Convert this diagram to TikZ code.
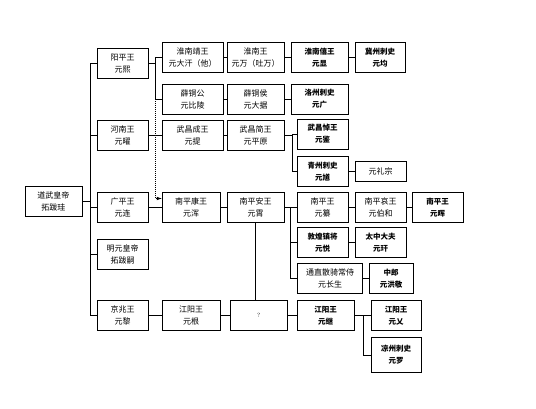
\documentclass[tikz,border=0pt]{standalone}
\usepackage{fontspec}
\newfontfamily\cjk{Noto Sans CJK SC}
\usepackage{tikz}
\usetikzlibrary{calc}
\usetikzlibrary{positioning}

\tikzset{
    box/.style={draw,line width=0.7pt,minimum width=#1,minimum height=30pt,inner sep=1pt,
        align=center,font=\cjk\fontsize{8}{12}\selectfont},
    box/.default=51pt,
    kai/.style={font=\cjk\bfseries\fontsize{7.5}{12}\selectfont},
    link/.style={line width=0.7pt},
}

\begin{document}
\begin{tikzpicture}[x=1pt,y=-1pt]
            \useasboundingbox (0,0) rectangle (536,409);

            % root and sons
            \node[box=57pt] (dw) at (53.5,201.5) {道武皇帝\\拓跋珪};
            \node[box] (yp) at (122.5,63.5) {阳平王\\元熙};
            \node[box] (hn) at (122.5,135) {河南王\\元曜};
            \node[box] (gp) at (122.5,207.5) {广平王\\元连};
            \node[box] (my) at (122.5,254.5) {明元皇帝\\拓跋嗣};
            \node[box] (jz) at (122.5,315.5) {京兆王\\元黎};
            \foreach \c in {yp,hn,gp,my,jz}{
                \draw[link] (dw.east) -- ++(8,0) |- (\c.west);
            }

            % line of yangping
            \node[box=61pt] (hnj) at (192.5,57.5) {淮南靖王\\元大汗（他）};
            \node[box=57pt] (hnw) at (255.5,57.5) {淮南王\\元万（吐万）};
            \node[box=57pt,kai] (hnx) at (319.5,57.5) {淮南僖王\\元显};
            \node[box=50pt,kai] (jzc) at (380,57.5) {冀州刺史\\元均};
            \node[box=61pt] (xtg) at (192.5,99) {薛铜公\\元比陵};
            \node[box=57pt] (xth) at (255.5,99) {薛铜侯\\元大据};
            \node[box=57pt,kai] (lz) at (319.5,99) {洛州刺史\\元广};
            \draw[link] (yp.east) -- ++(7,0) coordinate (yb) |- (hnj.west);
            \draw[link] (yb) |- (xtg.west);
            \draw[link] (hnj) -- (hnw) -- (hnx) -- (jzc);
            \draw[link] (xtg) -- (xth) -- (lz);

            % line of henan
            \node[box=61pt] (wcc) at (192.5,135) {武昌成王\\元提};
            \node[box=57pt] (wcj) at (255.5,135) {武昌简王\\元平原};
            \node[box,kai] (wcd) at (322.5,134) {武昌悼王\\元鉴};
            \node[box,kai] (qz) at (322.5,171.5) {青州刺史\\元馗};
            \node[box,minimum height=20pt] (lzs) at (380.5,171.5) {元礼宗};
            \draw[link] (hn) -- (wcc) -- (wcj);
            \draw[link] (wcj.east) -- ++(8,0) |- (wcd.west);
            \draw[link] (wcj.east) -- ++(8,0) |- (qz.west);
            \draw[link] (qz) -- (lzs);

            % line of guangping
            \node[box=58pt] (npk) at (191,207.5) {南平康王\\元浑};
            \node[box=57pt] (npa) at (255.5,207.5) {南平安王\\元霄};
            \node[box] (npw) at (322.5,207.5) {南平王\\元纂};
            \node[box] (nph) at (380.5,207.5) {南平哀王\\元伯和};
            \node[box,kai] (nph2) at (437.5,207.5) {南平王\\元晖};
            \node[box,kai] (dh) at (322.5,242.5) {敦煌镇将\\元悦};
            \node[box,kai] (tzd) at (380.5,242.5) {太中大夫\\元玕};
            \node[box=65pt] (tz) at (330,278.5) {通直散骑常侍\\元长生};
            \node[box=44pt,kai] (zl) at (391,278.5) {中郎\\元洪敬};
            \draw[link] (gp) -- (npk) -- (npa);
            \draw[link,dash pattern=on 1pt off 1pt,-latex] (yb |- xtg.west) |- ([yshift=9pt]npk.west);
            \foreach \c in {npw,dh,tz}{
                \draw[link] (npa.east) -- ++(6,0) |- (\c.west);
            }
            \draw[link] (npw) -- (nph) -- (nph2);
            \draw[link] (dh) -- (tzd);
            \draw[link] (tz) -- (zl);

            % line of jingzhao
            \node[box=58pt] (jyg) at (191,315.5) {江阳王\\元根};
            \node[box=57pt,font=\fontsize{6}{8}\selectfont] (q) at (258.5,315.5) {?};
            \node[box=57pt,kai] (jyj) at (325.5,315.5) {江阳王\\元继};
            \node[box=50pt,kai] (yy) at (396,315.5) {江阳王\\元乂};
            \node[box=50pt,kai,minimum height=35pt] (lzc) at (396,355) {凉州刺史\\元罗};
            \draw[link] (jz) -- (jyg) -- (q) -- (jyj);
            \draw[link] (npa.south) -- (npa.south |- q.north);
            \draw[link] (jyj.east) -- ++(9,0) |- (yy.west);
            \draw[link] (jyj.east) -- ++(9,0) |- (lzc.west);
        \end{tikzpicture}
\end{document}
